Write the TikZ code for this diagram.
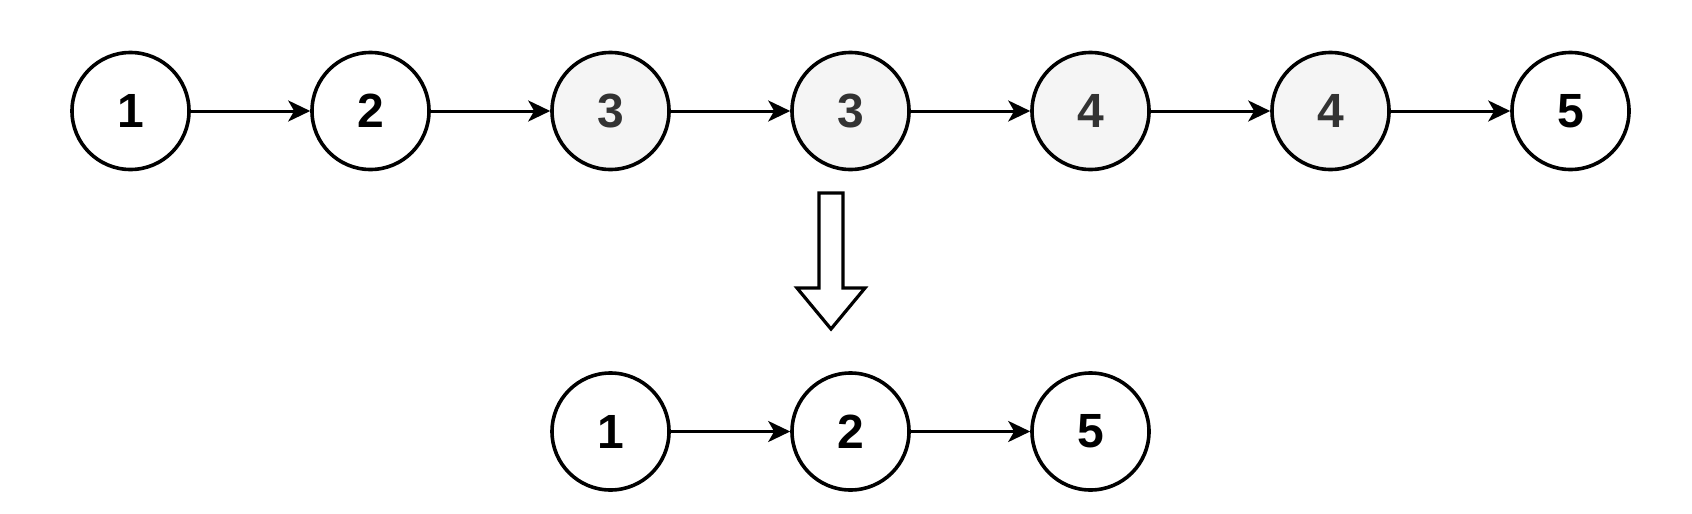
\documentclass[tikz,border=0pt]{standalone}
\usepackage{fontspec}
\setsansfont{Liberation Sans}
\usepackage{xcolor}
\usetikzlibrary{arrows.meta}
\definecolor{dupfill}{HTML}{F5F5F5}
\definecolor{duptext}{HTML}{333333}
\tikzset{
    listnode/.style={draw, circle, line width=3.6pt, minimum size=117pt, inner sep=0pt,
        font=\sffamily\bfseries\fontsize{48}{52}\selectfont},
    dupnode/.style={listnode, fill=dupfill, text=duptext},
    link/.style={line width=3pt, -{Stealth[length=22pt, width=21pt, inset=6pt]}},
    hollow/.style={draw, line width=3.2pt, fill=white, line join=miter}
}

\begin{document}
\begin{tikzpicture}[x=1pt, y=-1pt, node distance=240pt]
    \useasboundingbox (0,0) rectangle (1692,514);
    % original list
    \node [listnode] at (130.5,111) (n1) {1};
    \node [listnode, right of=n1] (n2) {2};
    \node [dupnode, right of=n2] (n3) {3};
    \node [dupnode, right of=n3] (n4) {3};
    \node [dupnode, right of=n4] (n5) {4};
    \node [dupnode, right of=n5] (n6) {4};
    \node [listnode, right of=n6] (n7) {5};
    
    \foreach \a/\b in {n1/n2, n2/n3, n3/n4, n4/n5, n5/n6, n6/n7}
        \draw [link] (\a) -- (\b);
    
    % result list
    \node [listnode, below of=n3, yshift=-80.5pt] (r1) {1};
    \node [listnode, right of=r1] (r2) {2};
    \node [listnode, right of=r2] (r3) {5};
    
    \draw [link] (r1) -- (r2);
    \draw [link] (r2) -- (r3);
    
    % hollow arrow
    \coordinate (arr) at (831,193);
    \draw [hollow] (arr) ++(-12,0) -- ++(24,0) -- ++(0,95) -- ++(22,0)
        -- (831,329) -- (797,288) -- ++(22,0) -- cycle;
\end{tikzpicture}
\end{document}
